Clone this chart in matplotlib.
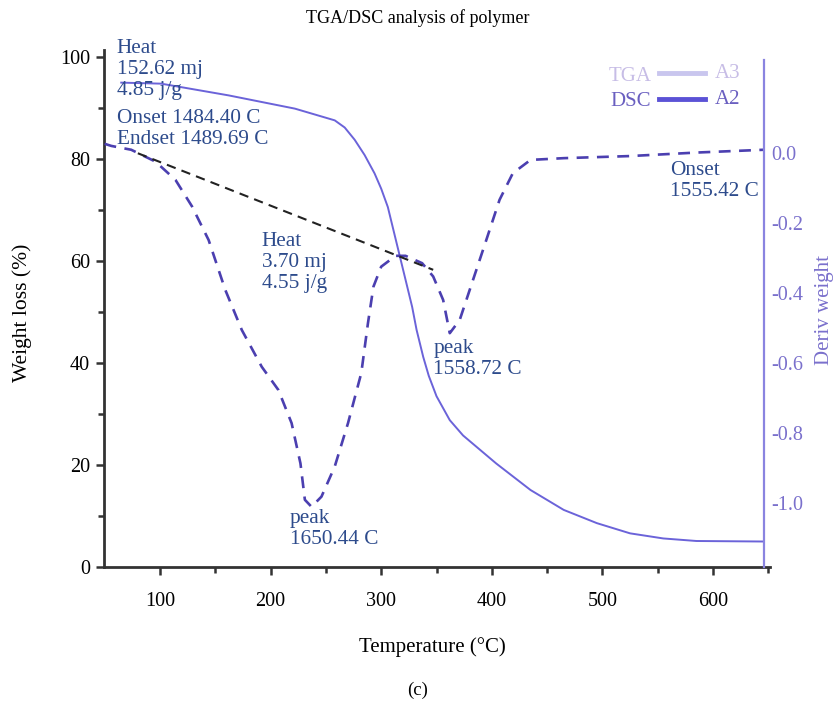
import matplotlib
matplotlib.use("Agg")
import matplotlib.pyplot as plt
from matplotlib.lines import Line2D

plt.rcParams['font.family'] = ['Liberation Serif', 'DejaVu Serif']
plt.rcParams['axes.unicode_minus'] = False

# TGA curve (weight loss, %)
tga_temp = [65, 101, 162, 222, 258, 267, 276, 285, 294, 300, 306, 317, 328, 332, 338, 343, 350,
            362, 374, 404, 435, 465, 495, 525, 555, 585, 645]
tga_weight = [95.0, 94.8, 92.5, 89.9, 87.6, 86.2, 83.8, 80.8, 77.2, 74.2, 70.6, 60.8, 51.0, 46.5,
              41.2, 37.5, 33.5, 28.8, 25.8, 20.3, 15.1, 11.2, 8.6, 6.6, 5.6, 5.1, 5.0]

# DSC curve (deriv weight)
dsc_temp = [50, 56, 74, 96, 114, 129, 144, 159, 174, 192, 207, 219, 227, 231, 237, 246, 258, 270,
            282, 288, 293, 300, 313, 322, 337, 347, 356, 362, 371, 383, 395, 407, 419, 435, 465, 525, 585, 646]
dsc_value = [0.026, 0.02, 0.009, -0.025, -0.077, -0.153, -0.249, -0.391, -0.506, -0.611, -0.677, -0.772,
             -0.887, -0.991, -1.011, -0.982, -0.896, -0.772, -0.629, -0.487, -0.382, -0.325, -0.294, -0.294,
             -0.315, -0.353, -0.42, -0.515, -0.477, -0.363, -0.249, -0.134, -0.058, -0.02, -0.015, -0.009,
             0.001, 0.009]

# baseline drawn under the first DSC event
base_temp = [80, 347]
base_value = [-0.001, -0.334]

text_color = '#2d4b8c'
tga_color = '#6b63d9'
dsc_color = '#4b3fb0'
right_color = '#7a70cc'

fig = plt.figure(figsize=(8.37, 7.04), dpi=100)
ax = fig.add_axes([104 / 837, 137 / 704, 666 / 837, 517 / 704])
ax2 = ax.twinx()

ax.plot(tga_temp, tga_weight, color=tga_color, lw=1.4)
ax2.plot(dsc_temp, dsc_value, color=dsc_color, lw=1.9, dashes=(4.5, 3.2))
ax2.plot(base_temp, base_value, color='#222222', lw=1.5, dashes=(4.5, 3))

ax.set_xlim(49.4, 651.5)
ax.set_ylim(0, 101.4)
ax2.set_ylim(-1.183, 0.294)

ax.set_xticks([100, 200, 300, 400, 500, 600])
ax.set_xticks([150, 250, 350, 450, 550, 650], minor=True)
ax.set_yticks([0, 20, 40, 60, 80, 100])
ax.set_yticks([10, 30, 50, 70, 90], minor=True)
ax.tick_params(axis='both', which='major', labelsize=14.5, width=1.8, length=6, color='#333333')
ax.tick_params(axis='both', which='minor', width=1.8, length=4, color='#333333')
ax.tick_params(axis='x', which='major', pad=12)
ax.tick_params(axis='y', which='major', pad=4)

ax2.set_yticks([0.0, -0.2, -0.4, -0.6, -0.8, -1.0])
ax2.set_yticklabels(['0.0', '-0.2', '-0.4', '-0.6', '-0.8', '-1.0'])
ax2.tick_params(axis='y', length=0, pad=5, labelsize=14.5, labelcolor=right_color)

for s in ['top', 'right']:
    ax.spines[s].set_visible(False)
for s in ['top', 'left', 'bottom']:
    ax2.spines[s].set_visible(False)
ax.spines['left'].set_linewidth(2)
ax.spines['bottom'].set_linewidth(2)
ax.spines['left'].set_color('#333333')
ax.spines['bottom'].set_color('#333333')
ax2.spines['right'].set_position(('data', 646))
ax2.spines['right'].set_color('#8a84e0')
ax2.spines['right'].set_linewidth(1.6)
ax2.spines['right'].set_bounds(-1.183, 0.266)

# annotations
notes = [
    (61, 97.5, 'Heat\n152.62 mj\n4.85 j/g'),
    (61, 85.9, 'Onset 1484.40 C\nEndset 1489.69 C'),
    (192, 59.8, 'Heat\n3.70 mj\n4.55 j/g'),
    (217.5, 7.45, 'peak\n1650.44 C'),
    (347, 40.8, 'peak\n1558.72 C'),
    (561, 75.7, 'Onset\n1555.42 C'),
]
for x, y, s in notes:
    ax.text(x, y, s, color=text_color, fontsize=15.3, ha='left', va='center', linespacing=1.15)

# legend
handles = [Line2D([], [], color='#c9c6ee', lw=3.5), Line2D([], [], color='#5b52d6', lw=3.5)]
ax.legend(handles, ['TGA', 'DSC'], loc='upper left', bbox_to_anchor=(0.757, 0.969),
          frameon=False, markerfirst=False, fontsize=15, handlelength=2.2,
          handletextpad=0.4, labelspacing=0.3, borderpad=0, borderaxespad=0,
          labelcolor=['#c7bde6', '#6a5fc0'])
fig.text(715 / 837, 1 - 73 / 704, 'A3', color='#c7bde6', fontsize=15, ha='left', va='center')
fig.text(715 / 837, 1 - 99 / 704, 'A2', color='#6a5fc0', fontsize=15, ha='left', va='center')

fig.text(418 / 837, 1 - 18 / 704, 'TGA/DSC analysis of polymer', fontsize=13, ha='center', va='center')
fig.text(432 / 837, 1 - 647 / 704, 'Temperature (°C)', fontsize=15, ha='center', va='center')
fig.text(22 / 837, 1 - 313 / 704, 'Weight loss (%)', fontsize=15.5, ha='center', va='center', rotation=90)
fig.text(825 / 837, 1 - 310 / 704, 'Deriv weight', fontsize=15, ha='center', va='center',
         rotation=90, color=right_color)
fig.text(418 / 837, 1 - 690 / 704, '(c)', fontsize=13.5, ha='center', va='center')

fig.savefig('out.png', dpi=100)
